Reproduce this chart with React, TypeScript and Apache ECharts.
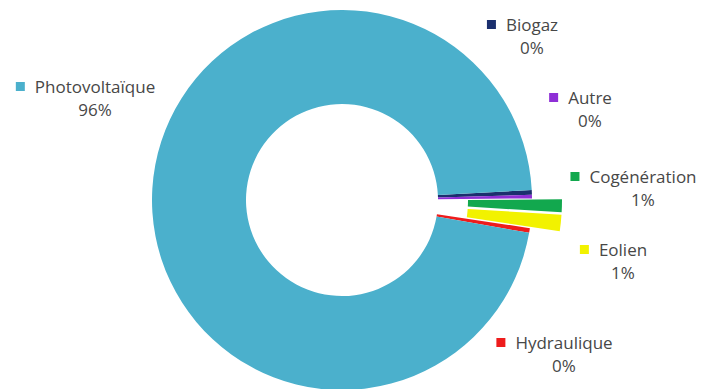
import React, { useEffect, useRef } from "react";
import * as echarts from "echarts";

// Electricity production by source (share of total, %)
const sources = ["Biogaz", "Autre", "Cogénération", "Eolien", "Hydraulique", "Photovoltaïque"];
const shares = [0.4, 0.3, 1.1, 1.4, 0.4, 96.4];
const pulledOut = [false, false, true, true, false, false];
const sliceColors = ["#1b2f6e", "#8e2fd6", "#12a84e", "#f2f200", "#ee1c1c", "#4bb0cc"];
// Centre of each label block (name line + percent line)
const labelAnchors: [number, number][] = [
  [532, 36],
  [590, 109],
  [643, 188],
  [623, 261],
  [564, 354],
  [95, 98],
];

export default function App() {
  const ref = useRef<HTMLDivElement>(null);

  useEffect(() => {
    if (!ref.current) return;
    const chart = echarts.init(ref.current, undefined, { renderer: "svg" });

    const textStyle = {
      fontFamily: "Open Sans",
      fontSize: 17,
      color: "#474747",
      lineHeight: 23,
      align: "center",
    };
    const rich: Record<string, any> = {
      gap: { width: 10, align: "center" },
      pad: { width: 19, align: "center" },
      nm: textStyle,
      pct: textStyle,
    };
    sliceColors.forEach((c, i) => {
      rich["sq" + i] = {
        width: 9,
        height: 9,
        backgroundColor: c,
        align: "center",
        verticalAlign: "middle",
      };
    });

    const ring = {
      type: "pie",
      center: [342, 200],
      radius: [96, 190],
      startAngle: 3,
      clockwise: true,
      avoidLabelOverlap: false,
      emphasis: { disabled: true },
      labelLine: { show: false },
    };

    chart.setOption({
      animation: false,
      series: [
        // the doughnut itself, with the pulled-out slices
        {
          ...ring,
          selectedMode: "multiple",
          selectedOffset: 30,
          select: { itemStyle: { borderWidth: 0 } },
          itemStyle: { borderWidth: 0 },
          label: { show: false },
          data: sources.map((name, i) => ({
            name,
            value: shares[i],
            selected: pulledOut[i],
            itemStyle: { color: sliceColors[i] },
          })),
        },
        // same values again, invisible, carrying the category labels
        {
          ...ring,
          silent: true,
          itemStyle: { color: "rgba(0,0,0,0)", borderWidth: 0 },
          data: sources.map((name, i) => ({ name, value: shares[i] })),
          label: {
            show: true,
            position: "outside",
            formatter: (p: any) =>
              `{sq${p.dataIndex}|}{gap|}{nm|${p.name}}{pad|}\n{pct|${Math.round(p.value)}%}`,
            rich,
          },
          labelLayout: (params: any) => {
            const [x, y] = labelAnchors[params.dataIndex];
            return { x, y, align: "center", verticalAlign: "middle" };
          },
        },
      ],
    });

    return () => chart.dispose();
  }, []);

  return (
    <div
      ref={ref}
      style={{ position: "fixed", left: 0, top: 0, width: 715, height: 389, background: "#fff" }}
    />
  );
}
